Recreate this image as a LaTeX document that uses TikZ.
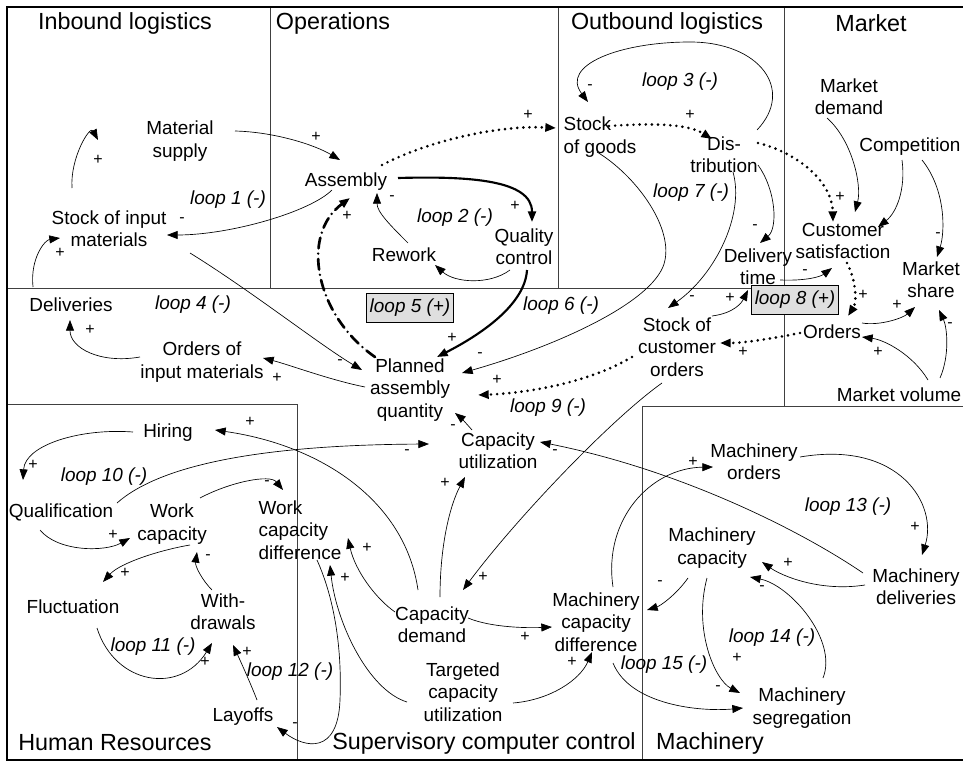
\documentclass[tikz,border=0pt]{standalone}
\usepackage{fontspec}
\setmainfont{Liberation Sans}
\usetikzlibrary{arrows.meta}
\begin{document}
\begin{tikzpicture}[x=0.75pt,y=-0.75pt]
\tikzset{
  var/.style={font=\fontsize{14.2}{16.8}\selectfont, align=center, inner sep=1pt},
  lp/.style={font=\fontsize{14.2}{16.8}\selectfont\itshape, inner sep=1pt},
  lbox/.style={lp, draw=black, line width=0.7pt, fill=gray!25, minimum width=65pt, minimum height=22pt},
  ttl/.style={font=\fontsize{17.5}{20}\selectfont, inner sep=0pt},
  sgn/.style={font=\fontsize{12}{12}\selectfont, inner sep=0pt},
  con/.style={-{Triangle[length=8pt,width=6pt]}, line width=0.5pt},
  thk/.style={con, line width=1.6pt},
  dots/.style={con, line width=2.2pt, line cap=round, dash pattern=on 0pt off 4.6pt},
  ddot/.style={con, line width=2pt, line cap=round, dash pattern=on 8pt off 4pt on 0pt off 4pt},
  frm/.style={line width=0.6pt, black!75},
  outer/.style={line width=2.2pt, black}
}
\useasboundingbox (0,0) rectangle (963,763);

% ---- frame and sector borders ----
\draw[frm] (270,7) -- (270,288);
\draw[frm] (558,7) -- (558,288);
\draw[frm] (784,7) -- (784,406);
\draw[frm] (7,288) -- (784,288);
\draw[frm] (642,406) -- (963,406);
\draw[frm] (7,404) -- (297,404) -- (297,760);
\draw[frm] (642,406) -- (642,760);
\draw[outer] (963,7) -- (7,7) -- (7,760) -- (963,760);

% ---- sector titles ----
\node[ttl] (tin)  at (125,23)  {Inbound logistics};
\node[ttl] (top)  at (333,23)  {Operations};
\node[ttl] (tout) at (667,23)  {Outbound logistics};
\node[ttl] (tmk)  at (871,23)  {Market};
\node[ttl] (thr)  at (115,743) {Human Resources};
\node[ttl] (tsc)  at (484,743) {Supervisory computer control};
\node[ttl] (tma)  at (710,743) {Machinery};

% ---- variables ----
\node[var] (ms)   at (180,141) {Material\\supply};
\node[var] (sim)  at (109,229) {Stock of input\\materials};
\node[var] (del)  at (71,305)  {Deliveries};
\node[var] (oim)  at (202,362) {Orders of\\input materials};
\node[var] (asm)  at (346,182) {Assembly};
\node[var] (rw)   at (404,255) {Rework};
\node[var] (qc)   at (524,247) {Quality\\control};
\node[var, align=left] (sog) at (600,137) {Stock\\of goods};
\node[var] (dis)  at (724,155) {Dis-\\tribution};
\node[var] (dt)   at (758,267) {Delivery\\time};
\node[var] (sco)  at (677,347) {Stock of\\customer\\orders};
\node[var] (md)   at (849,97)  {Market\\demand};
\node[var] (comp) at (910,147) {Competition};
\node[var] (cs)   at (843,241) {Customer\\satisfaction};
\node[var] (msh)  at (931,280) {Market\\share};
\node[var] (ord)  at (832,332) {Orders};
\node[var] (mv)   at (899,395) {Market volume};
\node[var] (paq)  at (410,390) {Planned\\assembly\\quantity};
\node[var] (cu)   at (498,451) {Capacity\\utilization};
\node[var] (hir)  at (168,433) {Hiring};
\node[var] (qual) at (61,512)  {Qualification};
\node[var] (wc)   at (172,524) {Work\\capacity};
\node[var, align=left] (wcd) at (300,530) {Work\\capacity\\difference};
\node[var] (fl)   at (73,607)  {Fluctuation};
\node[var] (wd)   at (223,612) {With-\\drawals};
\node[var] (lay)  at (243,717) {Layoffs};
\node[var] (cd)   at (432,625) {Capacity\\demand};
\node[var] (tcu)  at (463,692) {Targeted\\capacity\\utilization};
\node[var] (mcd)  at (596,622) {Machinery\\capacity\\difference};
\node[var] (mo)   at (754,462) {Machinery\\orders};
\node[var] (mc)   at (712,548) {Machinery\\capacity};
\node[var] (mdl)  at (916,587) {Machinery\\deliveries};
\node[var] (mseg) at (802,708) {Machinery\\segregation};

% ---- loop labels ----
\node[lp] (l1)  at (228,200) {loop 1 (-)};
\node[lp] (l2)  at (455,218) {loop 2 (-)};
\node[lp] (l3)  at (680,82)  {loop 3 (-)};
\node[lp] (l4)  at (193,305) {loop 4 (-)};
\node[lbox] (l5) at (410,308) {loop 5 (+)};
\node[lp] (l6)  at (561,306) {loop 6 (-)};
\node[lp] (l7)  at (691,193) {loop 7 (-)};
\node[lbox] (l8) at (795,300) {loop 8 (+)};
\node[lp] (l9)  at (548,408) {loop 9 (-)};
\node[lp] (l10) at (104,477) {loop 10 (-)};
\node[lp] (l11) at (153,647) {loop 11 (-)};
\node[lp] (l12) at (290,672) {loop 12 (-)};
\node[lp] (l13) at (848,507) {loop 13 (-)};
\node[lp] (l14) at (772,638) {loop 14 (-)};
\node[lp] (l15) at (664,665) {loop 15 (-)};

% ---- causal links ----
% inbound logistics
\draw[con] ([shift={(55,-10)}]ms.center) .. controls (275,132) and (315,145) .. ([shift={(-6,-22)}]asm.center);
\draw[con] ([shift={(-14,8)}]asm.center) .. controls (310,212) and (230,235) .. ([shift={(58,6)}]sim.center);
\draw[con] ([shift={(-37,-41)}]sim.center) .. controls (70,158) and (90,125) .. ([shift={(-82,-1)}]ms.center);
\draw[con] ([shift={(-38,-18)}]del.center) .. controls (30,258) and (45,240) .. ([shift={(-49,9)}]sim.center);
\draw[con] ([shift={(-62,-5)}]oim.center) .. controls (100,364) and (70,348) .. ([shift={(-1,15)}]del.center);
\draw[con] ([shift={(-45,-3)}]paq.center) .. controls (330,380) and (290,365) .. ([shift={(61,-4)}]oim.center);
\draw[con] ([shift={(81,24)}]sim.center) .. controls (250,290) and (320,345) .. ([shift={(-48,-20)}]paq.center);

% operations
\draw[dots] ([shift={(36,-17)}]asm.center) .. controls (430,140) and (500,125) .. ([shift={(-44,-9)}]sog.center);
\draw[thk] ([shift={(52,-4)}]asm.center) .. controls (470,176) and (532,180) .. ([shift={(8,-25)}]qc.center);
\draw[con] ([shift={(-14,23)}]qc.center) .. controls (490,285) and (455,283) .. ([shift={(31,10)}]rw.center);
\draw[con] ([shift={(4,-12)}]rw.center) .. controls (390,225) and (377,212) .. ([shift={(31,11)}]asm.center);
\draw[ddot] ([shift={(-35,-33)}]paq.center) .. controls (315,315) and (300,235) .. ([shift={(4,16)}]asm.center);
\draw[thk] ([shift={(3,23)}]qc.center) .. controls (525,305) and (480,335) .. ([shift={(27,-33)}]paq.center);

% outbound logistics
\draw[con] ([shift={(-3,15)}]sog.center) .. controls (635,175) and (672,225) .. (665,260)
  .. controls (658,300) and (560,345) .. ([shift={(52,-17)}]paq.center);
\draw[con] ([shift={(33,-25)}]dis.center) .. controls (795,90) and (760,42) .. (690,42)
  .. controls (620,42) and (560,65) .. ([shift={(-12,-35)}]sog.center);
\draw[dots] ([shift={(9,-11)}]sog.center) .. controls (640,124) and (685,122) .. ([shift={(-12,-16)}]dis.center);
\draw[dots] ([shift={(34,-12)}]dis.center) .. controls (795,152) and (832,180) .. ([shift={(-10,-19)}]cs.center);
\draw[con] ([shift={(34,10)}]dis.center) .. controls (776,190) and (778,228) .. ([shift={(2,-24)}]dt.center);
\draw[con] ([shift={(9,17)}]dis.center) .. controls (745,215) and (715,275) .. ([shift={(-9,-39)}]sco.center);
\draw[con] ([shift={(22,13)}]dt.center) .. controls (805,281) and (820,277) .. ([shift={(-11,27)}]cs.center);
\draw[con] ([shift={(35,-31)}]sco.center) .. controls (735,313) and (742,302) .. ([shift={(-10,23)}]dt.center);
\draw[dots] ([shift={(4,22)}]cs.center) .. controls (856,280) and (857,302) .. ([shift={(16,-16)}]ord.center);
\draw[dots] ([shift={(-32,1)}]ord.center) .. controls (775,338) and (745,343) .. ([shift={(43,-4)}]sco.center);
\draw[dots] ([shift={(-45,10)}]sco.center) .. controls (590,382) and (530,393) .. ([shift={(68,5)}]paq.center);

% market
\draw[con] ([shift={(30,-9)}]ord.center) .. controls (880,326) and (903,318) .. ([shift={(-16,27)}]msh.center);
\draw[con] ([shift={(29,-15)}]mv.center) .. controls (913,355) and (885,340) .. ([shift={(30,5)}]ord.center);
\draw[con] ([shift={(41,-17)}]mv.center) .. controls (950,355) and (947,327) .. ([shift={(8,30)}]msh.center);
\draw[con] ([shift={(-22,21)}]md.center) .. controls (852,140) and (862,185) .. ([shift={(12,-29)}]cs.center);
\draw[con] ([shift={(-8,13)}]comp.center) .. controls (906,190) and (896,213) .. ([shift={(35,-14)}]cs.center);
\draw[con] ([shift={(12,13)}]comp.center) .. controls (946,190) and (945,232) .. ([shift={(6,-23)}]msh.center);

% supervisory computer control and human resources
\draw[con] ([shift={(-26,-21)}]cu.center) .. controls (466,423) and (460,417) .. ([shift={(45,23)}]paq.center);
\draw[con] ([shift={(-14,-35)}]cd.center) .. controls (405,500) and (320,445) .. ([shift={(47,-3)}]hir.center);
\draw[con] ([shift={(56,-9)}]qual.center) .. controls (160,465) and (260,445) .. ([shift={(-69,-7)}]cu.center);
\draw[con] ([shift={(-35,-1)}]hir.center) .. controls (80,428) and (25,445) .. ([shift={(-38,-32)}]qual.center);
\draw[con] ([shift={(-21,18)}]qual.center) .. controls (58,552) and (105,552) .. ([shift={(-42,14)}]wc.center);
\draw[con] ([shift={(28,-26)}]wc.center) .. controls (230,482) and (270,474) .. ([shift={(-17,-40)}]wcd.center);
\draw[con] ([shift={(18,21)}]wc.center) .. controls (160,550) and (120,563) .. ([shift={(30,-25)}]fl.center);
\draw[con] ([shift={(-11,-22)}]wd.center) .. controls (202,580) and (195,566) .. ([shift={(25,28)}]wc.center);
\draw[con] ([shift={(24,21)}]fl.center) .. controls (115,685) and (180,695) .. ([shift={(-11,31)}]wd.center);
\draw[con] ([shift={(14,-17)}]lay.center) .. controls (250,682) and (240,660) .. ([shift={(10,33)}]wd.center);
\draw[con] ([shift={(17,30)}]wcd.center) .. controls (335,600) and (342,650) .. (340,700)
  .. controls (338,755) and (305,748) .. ([shift={(34,10)}]lay.center);
\draw[con] ([shift={(-56,10)}]tcu.center) .. controls (368,690) and (336,622) .. ([shift={(30,35)}]wcd.center);
\draw[con] ([shift={(-37,-13)}]cd.center) .. controls (375,598) and (355,570) .. ([shift={(48,8)}]wcd.center);
\draw[con] ([shift={(8,-28)}]cd.center) .. controls (440,545) and (450,505) .. ([shift={(-33,26)}]cu.center);
\draw[con] ([shift={(-15,36)}]sco.center) .. controls (610,420) and (515,520) .. ([shift={(31,-35)}]cd.center);
\draw[con] ([shift={(36,-7)}]cd.center) .. controls (492,628) and (530,628) .. ([shift={(-44,5)}]mcd.center);
\draw[con] ([shift={(50,11)}]tcu.center) .. controls (550,700) and (580,680) .. ([shift={(-4,30)}]mcd.center);

% machinery
\draw[con] ([shift={(-24,30)}]mc.center) .. controls (676,595) and (660,606) .. ([shift={(51,-12)}]mcd.center);
\draw[con] ([shift={(17,-35)}]mcd.center) .. controls (603,520) and (650,468) .. ([shift={(-41,5)}]mo.center);
\draw[con] ([shift={(46,-5)}]mo.center) .. controls (900,440) and (938,505) .. ([shift={(6,-32)}]mdl.center);
\draw[con] ([shift={(-51,-2)}]mdl.center) .. controls (820,592) and (782,576) .. ([shift={(50,14)}]mc.center);
\draw[con] ([shift={(-53,-14)}]mdl.center) .. controls (800,530) and (680,470) .. ([shift={(42,-9)}]cu.center);
\draw[con] ([shift={(21,-30)}]mseg.center) .. controls (838,640) and (790,585) .. ([shift={(38,29)}]mc.center);
\draw[con] ([shift={(-5,30)}]mc.center) .. controls (693,630) and (715,680) .. ([shift={(-62,-15)}]mseg.center);
\draw[con] ([shift={(17,41)}]mcd.center) .. controls (630,705) and (700,712) .. ([shift={(-59,0)}]mseg.center);

% ---- polarity signs ----
\foreach \n/\x/\y/\s in {
  1/316/137/+, 2/182/220/-, 3/98/160/+, 4/60/253/+, 5/90/330/+, 6/277/378/+,
  7/340/362/-, 8/528/115/+, 9/515/206/+, 10/392/198/-, 11/347/216/+, 12/452/338/+,
  13/480/355/-, 14/590/87/-, 15/690/115/+, 16/840/197/+, 17/755/227/-, 18/692/298/-,
  19/805/272/-, 20/730/298/+, 21/863/295/+, 22/743/352/+, 23/497/380/+, 24/897/305/+,
  25/878/352/+, 26/950/325/-, 27/938/235/-, 28/453/427/-, 29/250/422/+, 30/407/452/-,
  31/33/465/+, 32/113/535/+, 33/267/483/-, 34/125/573/+, 35/208/557/-, 36/205/662/+,
  37/247/652/+, 38/295/725/-, 39/345/578/+, 40/367/548/+, 41/445/483/+, 42/483/577/+,
  43/525/637/+, 44/572/662/+, 45/660/583/-, 46/693/462/+, 47/915/527/+, 48/788/563/+,
  49/555/452/-, 50/762/588/-, 51/737/658/+, 52/718/688/-}
  \node[sgn] (sg\n) at (\x,\y) {\s};

\end{tikzpicture}
\end{document}
